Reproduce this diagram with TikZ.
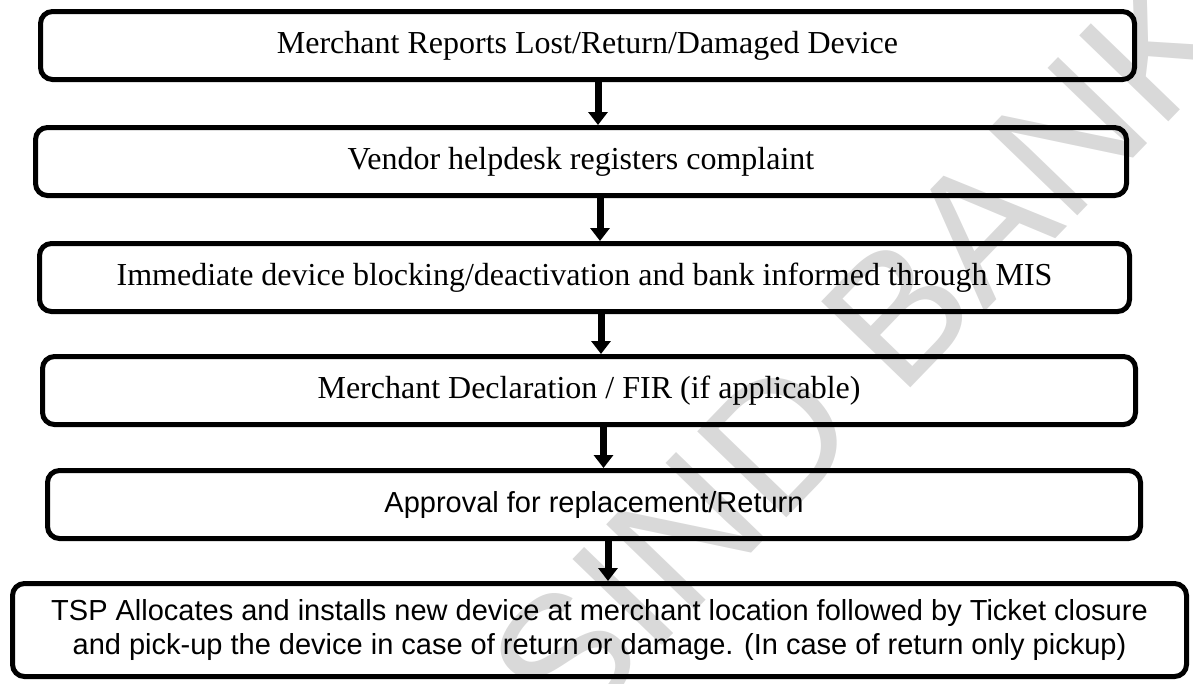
\documentclass[tikz,border=0pt]{standalone}
\usepackage{fontspec}
\setmainfont{Liberation Serif}
\newfontfamily\arialfont{Liberation Sans}
\usetikzlibrary{arrows.meta}
\begin{document}
\begin{tikzpicture}[x=1pt,y=-1pt,
  stepbox/.style={draw=black, line width=5pt, rounded corners=12pt, inner sep=0pt, align=center},
  serifbox/.style={stepbox, font=\fontsize{32}{38}\selectfont},
  sansbox/.style={stepbox, font=\arialfont\fontsize{29}{34}\selectfont},
  flowarrow/.style={line width=7pt, -{Triangle[width=19pt,length=13pt]}},
  watermark/.style={text=black!15, font=\arialfont\fontsize{180}{180}\selectfont, rotate=46, inner sep=0pt}
]
\useasboundingbox (0,0) rectangle (1193,683);
\clip (0,0) rectangle (1193,683);
\node[watermark] (wm) at (860,352) {SIND BANK};

\node[serifbox, minimum width=1094pt, minimum height=68pt] (b1) at (587.5,45.5) {Merchant Reports Lost/Return/Damaged Device};
\node[serifbox, minimum width=1091pt, minimum height=68pt] (b2) at (581,161.5) {Vendor helpdesk registers complaint};
\node[serifbox, minimum width=1090pt, minimum height=68pt] (b3) at (584.5,277.5) {Immediate device blocking/deactivation and bank informed through MIS};
\node[serifbox, minimum width=1093pt, minimum height=68pt] (b4) at (589,390.5) {Merchant Declaration / FIR (if applicable)};
\node[sansbox, minimum width=1093pt, minimum height=68pt] (b5) at (594,504.5) {Approval for replacement/Return};
\node[sansbox, minimum width=1174pt, minimum height=93pt] (b6) at (599.5,630) {TSP Allocates and installs new device at merchant location followed by Ticket closure\\and pick-up the device in case of return or damage. (In case of return only pickup)};

\draw[flowarrow] ([xshift=10.5pt]b1.south) -- ([xshift=17pt]b2.north);
\draw[flowarrow] ([xshift=19pt]b2.south) -- ([xshift=15.5pt]b3.north);
\draw[flowarrow] ([xshift=16.5pt]b3.south) -- ([xshift=12pt]b4.north);
\draw[flowarrow] ([xshift=14.5pt]b4.south) -- ([xshift=9.5pt]b5.north);
\draw[flowarrow] ([xshift=14pt]b5.south) -- ([xshift=8.5pt]b6.north);
\end{tikzpicture}
\end{document}
